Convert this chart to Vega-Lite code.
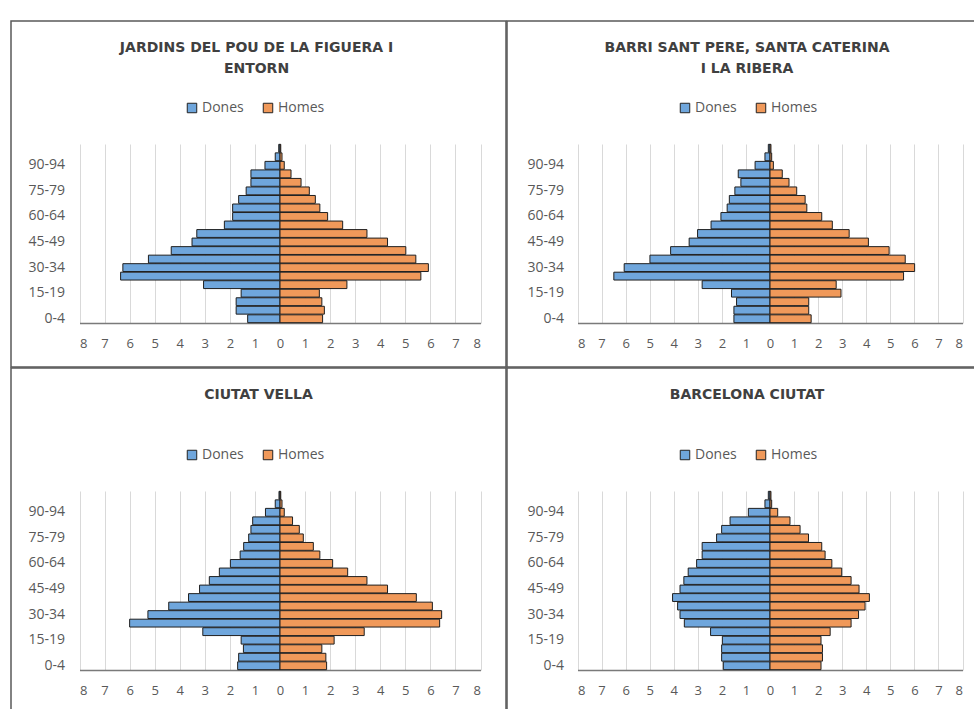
{
  "$schema": "https://vega.github.io/schema/vega-lite/v6.json",
  "padding": {"left": 10, "top": 20, "right": 0, "bottom": 0},
  "spacing": -1.5,
  "columns": 2,
  "datasets": {
    "piramide": [
      {"zona": "Jardins", "edat": "0-4", "sexe": "Dones", "pct": -1.29}, {"zona": "Jardins", "edat": "0-4", "sexe": "Homes", "pct": 1.70},
      {"zona": "Jardins", "edat": "5-9", "sexe": "Dones", "pct": -1.75}, {"zona": "Jardins", "edat": "5-9", "sexe": "Homes", "pct": 1.77},
      {"zona": "Jardins", "edat": "10-14", "sexe": "Dones", "pct": -1.75}, {"zona": "Jardins", "edat": "10-14", "sexe": "Homes", "pct": 1.67},
      {"zona": "Jardins", "edat": "15-19", "sexe": "Dones", "pct": -1.55}, {"zona": "Jardins", "edat": "15-19", "sexe": "Homes", "pct": 1.57},
      {"zona": "Jardins", "edat": "20-24", "sexe": "Dones", "pct": -3.05}, {"zona": "Jardins", "edat": "20-24", "sexe": "Homes", "pct": 2.67},
      {"zona": "Jardins", "edat": "25-29", "sexe": "Dones", "pct": -6.36}, {"zona": "Jardins", "edat": "25-29", "sexe": "Homes", "pct": 5.62},
      {"zona": "Jardins", "edat": "30-34", "sexe": "Dones", "pct": -6.27}, {"zona": "Jardins", "edat": "30-34", "sexe": "Homes", "pct": 5.92},
      {"zona": "Jardins", "edat": "35-39", "sexe": "Dones", "pct": -5.25}, {"zona": "Jardins", "edat": "35-39", "sexe": "Homes", "pct": 5.42},
      {"zona": "Jardins", "edat": "40-44", "sexe": "Dones", "pct": -4.34}, {"zona": "Jardins", "edat": "40-44", "sexe": "Homes", "pct": 5.02},
      {"zona": "Jardins", "edat": "45-49", "sexe": "Dones", "pct": -3.51}, {"zona": "Jardins", "edat": "45-49", "sexe": "Homes", "pct": 4.29},
      {"zona": "Jardins", "edat": "50-54", "sexe": "Dones", "pct": -3.32}, {"zona": "Jardins", "edat": "50-54", "sexe": "Homes", "pct": 3.47},
      {"zona": "Jardins", "edat": "55-59", "sexe": "Dones", "pct": -2.22}, {"zona": "Jardins", "edat": "55-59", "sexe": "Homes", "pct": 2.50},
      {"zona": "Jardins", "edat": "60-64", "sexe": "Dones", "pct": -1.89}, {"zona": "Jardins", "edat": "60-64", "sexe": "Homes", "pct": 1.90},
      {"zona": "Jardins", "edat": "65-69", "sexe": "Dones", "pct": -1.89}, {"zona": "Jardins", "edat": "65-69", "sexe": "Homes", "pct": 1.59},
      {"zona": "Jardins", "edat": "70-74", "sexe": "Dones", "pct": -1.65}, {"zona": "Jardins", "edat": "70-74", "sexe": "Homes", "pct": 1.41},
      {"zona": "Jardins", "edat": "75-79", "sexe": "Dones", "pct": -1.35}, {"zona": "Jardins", "edat": "75-79", "sexe": "Homes", "pct": 1.17},
      {"zona": "Jardins", "edat": "80-84", "sexe": "Dones", "pct": -1.16}, {"zona": "Jardins", "edat": "80-84", "sexe": "Homes", "pct": 0.84},
      {"zona": "Jardins", "edat": "85-89", "sexe": "Dones", "pct": -1.16}, {"zona": "Jardins", "edat": "85-89", "sexe": "Homes", "pct": 0.44},
      {"zona": "Jardins", "edat": "90-94", "sexe": "Dones", "pct": -0.60}, {"zona": "Jardins", "edat": "90-94", "sexe": "Homes", "pct": 0.17},
      {"zona": "Jardins", "edat": "95-99", "sexe": "Dones", "pct": -0.19}, {"zona": "Jardins", "edat": "95-99", "sexe": "Homes", "pct": 0.08},
      {"zona": "Jardins", "edat": "100+", "sexe": "Dones", "pct": -0.05}, {"zona": "Jardins", "edat": "100+", "sexe": "Homes", "pct": 0.03},

      {"zona": "Barri", "edat": "0-4", "sexe": "Dones", "pct": -1.50}, {"zona": "Barri", "edat": "0-4", "sexe": "Homes", "pct": 1.71},
      {"zona": "Barri", "edat": "5-9", "sexe": "Dones", "pct": -1.50}, {"zona": "Barri", "edat": "5-9", "sexe": "Homes", "pct": 1.61},
      {"zona": "Barri", "edat": "10-14", "sexe": "Dones", "pct": -1.39}, {"zona": "Barri", "edat": "10-14", "sexe": "Homes", "pct": 1.61},
      {"zona": "Barri", "edat": "15-19", "sexe": "Dones", "pct": -1.60}, {"zona": "Barri", "edat": "15-19", "sexe": "Homes", "pct": 2.95},
      {"zona": "Barri", "edat": "20-24", "sexe": "Dones", "pct": -2.82}, {"zona": "Barri", "edat": "20-24", "sexe": "Homes", "pct": 2.75},
      {"zona": "Barri", "edat": "25-29", "sexe": "Dones", "pct": -6.49}, {"zona": "Barri", "edat": "25-29", "sexe": "Homes", "pct": 5.55},
      {"zona": "Barri", "edat": "30-34", "sexe": "Dones", "pct": -6.06}, {"zona": "Barri", "edat": "30-34", "sexe": "Homes", "pct": 6.01},
      {"zona": "Barri", "edat": "35-39", "sexe": "Dones", "pct": -4.99}, {"zona": "Barri", "edat": "35-39", "sexe": "Homes", "pct": 5.62},
      {"zona": "Barri", "edat": "40-44", "sexe": "Dones", "pct": -4.13}, {"zona": "Barri", "edat": "40-44", "sexe": "Homes", "pct": 4.95},
      {"zona": "Barri", "edat": "45-49", "sexe": "Dones", "pct": -3.36}, {"zona": "Barri", "edat": "45-49", "sexe": "Homes", "pct": 4.09},
      {"zona": "Barri", "edat": "50-54", "sexe": "Dones", "pct": -3.01}, {"zona": "Barri", "edat": "50-54", "sexe": "Homes", "pct": 3.29},
      {"zona": "Barri", "edat": "55-59", "sexe": "Dones", "pct": -2.45}, {"zona": "Barri", "edat": "55-59", "sexe": "Homes", "pct": 2.59},
      {"zona": "Barri", "edat": "60-64", "sexe": "Dones", "pct": -2.04}, {"zona": "Barri", "edat": "60-64", "sexe": "Homes", "pct": 2.15},
      {"zona": "Barri", "edat": "65-69", "sexe": "Dones", "pct": -1.78}, {"zona": "Barri", "edat": "65-69", "sexe": "Homes", "pct": 1.53},
      {"zona": "Barri", "edat": "70-74", "sexe": "Dones", "pct": -1.69}, {"zona": "Barri", "edat": "70-74", "sexe": "Homes", "pct": 1.46},
      {"zona": "Barri", "edat": "75-79", "sexe": "Dones", "pct": -1.46}, {"zona": "Barri", "edat": "75-79", "sexe": "Homes", "pct": 1.11},
      {"zona": "Barri", "edat": "80-84", "sexe": "Dones", "pct": -1.21}, {"zona": "Barri", "edat": "80-84", "sexe": "Homes", "pct": 0.79},
      {"zona": "Barri", "edat": "85-89", "sexe": "Dones", "pct": -1.32}, {"zona": "Barri", "edat": "85-89", "sexe": "Homes", "pct": 0.51},
      {"zona": "Barri", "edat": "90-94", "sexe": "Dones", "pct": -0.62}, {"zona": "Barri", "edat": "90-94", "sexe": "Homes", "pct": 0.14},
      {"zona": "Barri", "edat": "95-99", "sexe": "Dones", "pct": -0.21}, {"zona": "Barri", "edat": "95-99", "sexe": "Homes", "pct": 0.07},
      {"zona": "Barri", "edat": "100+", "sexe": "Dones", "pct": -0.07}, {"zona": "Barri", "edat": "100+", "sexe": "Homes", "pct": 0.04},

      {"zona": "Ciutat Vella", "edat": "0-4", "sexe": "Dones", "pct": -1.69}, {"zona": "Ciutat Vella", "edat": "0-4", "sexe": "Homes", "pct": 1.86},
      {"zona": "Ciutat Vella", "edat": "5-9", "sexe": "Dones", "pct": -1.65}, {"zona": "Ciutat Vella", "edat": "5-9", "sexe": "Homes", "pct": 1.83},
      {"zona": "Ciutat Vella", "edat": "10-14", "sexe": "Dones", "pct": -1.46}, {"zona": "Ciutat Vella", "edat": "10-14", "sexe": "Homes", "pct": 1.67},
      {"zona": "Ciutat Vella", "edat": "15-19", "sexe": "Dones", "pct": -1.55}, {"zona": "Ciutat Vella", "edat": "15-19", "sexe": "Homes", "pct": 2.16},
      {"zona": "Ciutat Vella", "edat": "20-24", "sexe": "Dones", "pct": -3.08}, {"zona": "Ciutat Vella", "edat": "20-24", "sexe": "Homes", "pct": 3.36},
      {"zona": "Ciutat Vella", "edat": "25-29", "sexe": "Dones", "pct": -6.00}, {"zona": "Ciutat Vella", "edat": "25-29", "sexe": "Homes", "pct": 6.37},
      {"zona": "Ciutat Vella", "edat": "30-34", "sexe": "Dones", "pct": -5.27}, {"zona": "Ciutat Vella", "edat": "30-34", "sexe": "Homes", "pct": 6.45},
      {"zona": "Ciutat Vella", "edat": "35-39", "sexe": "Dones", "pct": -4.44}, {"zona": "Ciutat Vella", "edat": "35-39", "sexe": "Homes", "pct": 6.08},
      {"zona": "Ciutat Vella", "edat": "40-44", "sexe": "Dones", "pct": -3.65}, {"zona": "Ciutat Vella", "edat": "40-44", "sexe": "Homes", "pct": 5.44},
      {"zona": "Ciutat Vella", "edat": "45-49", "sexe": "Dones", "pct": -3.21}, {"zona": "Ciutat Vella", "edat": "45-49", "sexe": "Homes", "pct": 4.29},
      {"zona": "Ciutat Vella", "edat": "50-54", "sexe": "Dones", "pct": -2.82}, {"zona": "Ciutat Vella", "edat": "50-54", "sexe": "Homes", "pct": 3.47},
      {"zona": "Ciutat Vella", "edat": "55-59", "sexe": "Dones", "pct": -2.42}, {"zona": "Ciutat Vella", "edat": "55-59", "sexe": "Homes", "pct": 2.70},
      {"zona": "Ciutat Vella", "edat": "60-64", "sexe": "Dones", "pct": -1.98}, {"zona": "Ciutat Vella", "edat": "60-64", "sexe": "Homes", "pct": 2.10},
      {"zona": "Ciutat Vella", "edat": "65-69", "sexe": "Dones", "pct": -1.59}, {"zona": "Ciutat Vella", "edat": "65-69", "sexe": "Homes", "pct": 1.59},
      {"zona": "Ciutat Vella", "edat": "70-74", "sexe": "Dones", "pct": -1.45}, {"zona": "Ciutat Vella", "edat": "70-74", "sexe": "Homes", "pct": 1.33},
      {"zona": "Ciutat Vella", "edat": "75-79", "sexe": "Dones", "pct": -1.25}, {"zona": "Ciutat Vella", "edat": "75-79", "sexe": "Homes", "pct": 0.93},
      {"zona": "Ciutat Vella", "edat": "80-84", "sexe": "Dones", "pct": -1.16}, {"zona": "Ciutat Vella", "edat": "80-84", "sexe": "Homes", "pct": 0.77},
      {"zona": "Ciutat Vella", "edat": "85-89", "sexe": "Dones", "pct": -1.09}, {"zona": "Ciutat Vella", "edat": "85-89", "sexe": "Homes", "pct": 0.50},
      {"zona": "Ciutat Vella", "edat": "90-94", "sexe": "Dones", "pct": -0.58}, {"zona": "Ciutat Vella", "edat": "90-94", "sexe": "Homes", "pct": 0.17},
      {"zona": "Ciutat Vella", "edat": "95-99", "sexe": "Dones", "pct": -0.19}, {"zona": "Ciutat Vella", "edat": "95-99", "sexe": "Homes", "pct": 0.08},
      {"zona": "Ciutat Vella", "edat": "100+", "sexe": "Dones", "pct": -0.04}, {"zona": "Ciutat Vella", "edat": "100+", "sexe": "Homes", "pct": 0.03},

      {"zona": "Barcelona", "edat": "0-4", "sexe": "Dones", "pct": -1.94}, {"zona": "Barcelona", "edat": "0-4", "sexe": "Homes", "pct": 2.12},
      {"zona": "Barcelona", "edat": "5-9", "sexe": "Dones", "pct": -2.01}, {"zona": "Barcelona", "edat": "5-9", "sexe": "Homes", "pct": 2.18},
      {"zona": "Barcelona", "edat": "10-14", "sexe": "Dones", "pct": -2.01}, {"zona": "Barcelona", "edat": "10-14", "sexe": "Homes", "pct": 2.18},
      {"zona": "Barcelona", "edat": "15-19", "sexe": "Dones", "pct": -1.98}, {"zona": "Barcelona", "edat": "15-19", "sexe": "Homes", "pct": 2.12},
      {"zona": "Barcelona", "edat": "20-24", "sexe": "Dones", "pct": -2.47}, {"zona": "Barcelona", "edat": "20-24", "sexe": "Homes", "pct": 2.50},
      {"zona": "Barcelona", "edat": "25-29", "sexe": "Dones", "pct": -3.56}, {"zona": "Barcelona", "edat": "25-29", "sexe": "Homes", "pct": 3.37},
      {"zona": "Barcelona", "edat": "30-34", "sexe": "Dones", "pct": -3.74}, {"zona": "Barcelona", "edat": "30-34", "sexe": "Homes", "pct": 3.68},
      {"zona": "Barcelona", "edat": "35-39", "sexe": "Dones", "pct": -3.84}, {"zona": "Barcelona", "edat": "35-39", "sexe": "Homes", "pct": 3.95},
      {"zona": "Barcelona", "edat": "40-44", "sexe": "Dones", "pct": -4.05}, {"zona": "Barcelona", "edat": "40-44", "sexe": "Homes", "pct": 4.13},
      {"zona": "Barcelona", "edat": "45-49", "sexe": "Dones", "pct": -3.74}, {"zona": "Barcelona", "edat": "45-49", "sexe": "Homes", "pct": 3.70},
      {"zona": "Barcelona", "edat": "50-54", "sexe": "Dones", "pct": -3.58}, {"zona": "Barcelona", "edat": "50-54", "sexe": "Homes", "pct": 3.37},
      {"zona": "Barcelona", "edat": "55-59", "sexe": "Dones", "pct": -3.40}, {"zona": "Barcelona", "edat": "55-59", "sexe": "Homes", "pct": 2.98},
      {"zona": "Barcelona", "edat": "60-64", "sexe": "Dones", "pct": -3.05}, {"zona": "Barcelona", "edat": "60-64", "sexe": "Homes", "pct": 2.57},
      {"zona": "Barcelona", "edat": "65-69", "sexe": "Dones", "pct": -2.82}, {"zona": "Barcelona", "edat": "65-69", "sexe": "Homes", "pct": 2.29},
      {"zona": "Barcelona", "edat": "70-74", "sexe": "Dones", "pct": -2.82}, {"zona": "Barcelona", "edat": "70-74", "sexe": "Homes", "pct": 2.15},
      {"zona": "Barcelona", "edat": "75-79", "sexe": "Dones", "pct": -2.22}, {"zona": "Barcelona", "edat": "75-79", "sexe": "Homes", "pct": 1.60},
      {"zona": "Barcelona", "edat": "80-84", "sexe": "Dones", "pct": -2.01}, {"zona": "Barcelona", "edat": "80-84", "sexe": "Homes", "pct": 1.25},
      {"zona": "Barcelona", "edat": "85-89", "sexe": "Dones", "pct": -1.66}, {"zona": "Barcelona", "edat": "85-89", "sexe": "Homes", "pct": 0.83},
      {"zona": "Barcelona", "edat": "90-94", "sexe": "Dones", "pct": -0.90}, {"zona": "Barcelona", "edat": "90-94", "sexe": "Homes", "pct": 0.32},
      {"zona": "Barcelona", "edat": "95-99", "sexe": "Dones", "pct": -0.21}, {"zona": "Barcelona", "edat": "95-99", "sexe": "Homes", "pct": 0.07},
      {"zona": "Barcelona", "edat": "100+", "sexe": "Dones", "pct": -0.07}, {"zona": "Barcelona", "edat": "100+", "sexe": "Homes", "pct": 0.04}
    ]
  },
  "resolve": {
    "scale": {"x": "independent", "y": "independent", "color": "independent"},
    "legend": {"color": "independent"},
    "axis": {"x": "independent", "y": "independent"}
  },
  "concat": [
    {
      "width": 495,
      "height": 346,
      "data": {"name": "piramide"},
      "transform": [{"filter": "datum.zona == 'Jardins'"}],
      "title": {"text": ["JARDINS DEL POU DE LA FIGUERA I", "ENTORN"], "offset": -54.5, "dx": -2},
      "encoding": {
        "y": {
          "field": "edat", "type": "ordinal",
          "sort": ["100+", "95-99", "90-94", "85-89", "80-84", "75-79", "70-74", "65-69", "60-64", "55-59", "50-54", "45-49", "40-44", "35-39", "30-34", "25-29", "20-24", "15-19", "10-14", "5-9", "0-4"],
          "scale": {"range": [123, 302], "paddingInner": 0.08, "paddingOuter": 0.04},
          "axis": {"offset": -68.5, "labelPadding": 15, "values": ["0-4", "15-19", "30-34", "45-49", "60-64", "75-79", "90-94"]}
        }
      },
      "layer": [
        {
          "mark": {"type": "rule", "opacity": 0},
          "encoding": {
            "x": {
              "field": "pct", "type": "quantitative",
              "scale": {"domain": [-8, 8], "range": [68.5, 469.5]},
              "axis": {"orient": "top", "grid": true, "labels": false, "domain": false, "ticks": false, "values": [-8, -7, -6, -5, -4, -3, -2, -1, 0, 1, 2, 3, 4, 5, 6, 7, 8]}
            }
          }
        },
        {
          "mark": {"type": "bar", "stroke": "#1f1f1f", "strokeWidth": 1},
          "encoding": {
            "x": {
              "field": "pct", "type": "quantitative",
              "scale": {"domain": [-8, 8], "range": [68.5, 469.5]},
              "axis": {"orient": "bottom", "offset": -44, "grid": false, "values": [-8, -7, -6, -5, -4, -3, -2, -1, 0, 1, 2, 3, 4, 5, 6, 7, 8]}
            },
            "color": {
              "field": "sexe", "type": "nominal",
              "scale": {"domain": ["Dones", "Homes"], "range": ["#6fa6dc", "#f0995a"]},
              "legend": {"legendX": 174, "legendY": 80}
            }
          }
        }
      ],
      "resolve": {"axis": {"x": "independent"}}
    },
    {
      "width": 468,
      "height": 346,
      "data": {"name": "piramide"},
      "transform": [{"filter": "datum.zona == 'Barri'"}],
      "title": {"text": ["BARRI SANT PERE, SANTA CATERINA", "I LA RIBERA"], "offset": -54.5, "dx": 6},
      "encoding": {
        "y": {
          "field": "edat", "type": "ordinal",
          "sort": ["100+", "95-99", "90-94", "85-89", "80-84", "75-79", "70-74", "65-69", "60-64", "55-59", "50-54", "45-49", "40-44", "35-39", "30-34", "25-29", "20-24", "15-19", "10-14", "5-9", "0-4"],
          "scale": {"range": [123, 302], "paddingInner": 0.08, "paddingOuter": 0.04},
          "axis": {"offset": -70.5, "labelPadding": 14, "values": ["0-4", "15-19", "30-34", "45-49", "60-64", "75-79", "90-94"]}
        }
      },
      "layer": [
        {
          "mark": {"type": "rule", "opacity": 0},
          "encoding": {
            "x": {
              "field": "pct", "type": "quantitative",
              "scale": {"domain": [-8, 8], "range": [70.5, 455.5]},
              "axis": {"orient": "top", "grid": true, "labels": false, "domain": false, "ticks": false, "values": [-8, -7, -6, -5, -4, -3, -2, -1, 0, 1, 2, 3, 4, 5, 6, 7, 8]}
            }
          }
        },
        {
          "mark": {"type": "bar", "stroke": "#1f1f1f", "strokeWidth": 1},
          "encoding": {
            "x": {
              "field": "pct", "type": "quantitative",
              "scale": {"domain": [-8, 8], "range": [70.5, 455.5]},
              "axis": {"orient": "bottom", "offset": -44, "grid": false, "values": [-8, -7, -6, -5, -4, -3, -2, -1, 0, 1, 2, 3, 4, 5, 6, 7, 8]}
            },
            "color": {
              "field": "sexe", "type": "nominal",
              "scale": {"domain": ["Dones", "Homes"], "range": ["#6fa6dc", "#f0995a"]},
              "legend": {"legendX": 171, "legendY": 80}
            }
          }
        }
      ],
      "resolve": {"axis": {"x": "independent"}}
    },
    {
      "width": 495,
      "height": 342,
      "data": {"name": "piramide"},
      "transform": [{"filter": "datum.zona == 'Ciutat Vella'"}],
      "title": {"text": "CIUTAT VELLA", "offset": -33.5, "dx": 0},
      "encoding": {
        "y": {
          "field": "edat", "type": "ordinal",
          "sort": ["100+", "95-99", "90-94", "85-89", "80-84", "75-79", "70-74", "65-69", "60-64", "55-59", "50-54", "45-49", "40-44", "35-39", "30-34", "25-29", "20-24", "15-19", "10-14", "5-9", "0-4"],
          "scale": {"range": [123, 302], "paddingInner": 0.08, "paddingOuter": 0.04},
          "axis": {"offset": -68.5, "labelPadding": 15, "values": ["0-4", "15-19", "30-34", "45-49", "60-64", "75-79", "90-94"]}
        }
      },
      "layer": [
        {
          "mark": {"type": "rule", "opacity": 0},
          "encoding": {
            "x": {
              "field": "pct", "type": "quantitative",
              "scale": {"domain": [-8, 8], "range": [68.5, 469.5]},
              "axis": {"orient": "top", "grid": true, "labels": false, "domain": false, "ticks": false, "values": [-8, -7, -6, -5, -4, -3, -2, -1, 0, 1, 2, 3, 4, 5, 6, 7, 8]}
            }
          }
        },
        {
          "mark": {"type": "bar", "stroke": "#1f1f1f", "strokeWidth": 1},
          "encoding": {
            "x": {
              "field": "pct", "type": "quantitative",
              "scale": {"domain": [-8, 8], "range": [68.5, 469.5]},
              "axis": {"orient": "bottom", "offset": -40, "grid": false, "values": [-8, -7, -6, -5, -4, -3, -2, -1, 0, 1, 2, 3, 4, 5, 6, 7, 8]}
            },
            "color": {
              "field": "sexe", "type": "nominal",
              "scale": {"domain": ["Dones", "Homes"], "range": ["#6fa6dc", "#f0995a"]},
              "legend": {"legendX": 174, "legendY": 80}
            }
          }
        }
      ],
      "resolve": {"axis": {"x": "independent"}}
    },
    {
      "width": 468,
      "height": 342,
      "data": {"name": "piramide"},
      "transform": [{"filter": "datum.zona == 'Barcelona'"}],
      "title": {"text": "BARCELONA CIUTAT", "offset": -33.5, "dx": 6},
      "encoding": {
        "y": {
          "field": "edat", "type": "ordinal",
          "sort": ["100+", "95-99", "90-94", "85-89", "80-84", "75-79", "70-74", "65-69", "60-64", "55-59", "50-54", "45-49", "40-44", "35-39", "30-34", "25-29", "20-24", "15-19", "10-14", "5-9", "0-4"],
          "scale": {"range": [123, 302], "paddingInner": 0.08, "paddingOuter": 0.04},
          "axis": {"offset": -70.5, "labelPadding": 14, "values": ["0-4", "15-19", "30-34", "45-49", "60-64", "75-79", "90-94"]}
        }
      },
      "layer": [
        {
          "mark": {"type": "rule", "opacity": 0},
          "encoding": {
            "x": {
              "field": "pct", "type": "quantitative",
              "scale": {"domain": [-8, 8], "range": [70.5, 455.5]},
              "axis": {"orient": "top", "grid": true, "labels": false, "domain": false, "ticks": false, "values": [-8, -7, -6, -5, -4, -3, -2, -1, 0, 1, 2, 3, 4, 5, 6, 7, 8]}
            }
          }
        },
        {
          "mark": {"type": "bar", "stroke": "#1f1f1f", "strokeWidth": 1},
          "encoding": {
            "x": {
              "field": "pct", "type": "quantitative",
              "scale": {"domain": [-8, 8], "range": [70.5, 455.5]},
              "axis": {"orient": "bottom", "offset": -40, "grid": false, "values": [-8, -7, -6, -5, -4, -3, -2, -1, 0, 1, 2, 3, 4, 5, 6, 7, 8]}
            },
            "color": {
              "field": "sexe", "type": "nominal",
              "scale": {"domain": ["Dones", "Homes"], "range": ["#6fa6dc", "#f0995a"]},
              "legend": {"legendX": 171, "legendY": 80}
            }
          }
        }
      ],
      "resolve": {"axis": {"x": "independent"}}
    }
  ],
  "config": {
    "font": "Open Sans",
    "view": {"stroke": "#5a5a5a", "strokeWidth": 1.5},
    "title": {
      "frame": "group", "anchor": "middle", "orient": "top",
      "font": "DejaVu Sans", "fontSize": 14, "fontWeight": "bold", "color": "#404040", "lineHeight": 21
    },
    "axisX": {
      "labelExpr": "abs(datum.value)",
      "gridColor": "#d9d9d9", "gridWidth": 1,
      "domainColor": "#7a7a7a", "domainWidth": 1.5,
      "ticks": false, "labelPadding": 14, "title": null
    },
    "axisY": {
      "domain": false, "ticks": false, "grid": false, "title": null, "labelFontSize": 14
    },
    "axis": {"labelFont": "Open Sans", "labelFontSize": 13, "labelColor": "#595959"},
    "legend": {
      "orient": "none", "direction": "horizontal", "title": null,
      "symbolType": "square", "symbolSize": 90, "symbolStrokeColor": "#222222", "symbolStrokeWidth": 1,
      "labelFont": "Open Sans", "labelFontSize": 14, "labelColor": "#595959",
      "labelOffset": 3, "columnPadding": 17
    }
  }
}
